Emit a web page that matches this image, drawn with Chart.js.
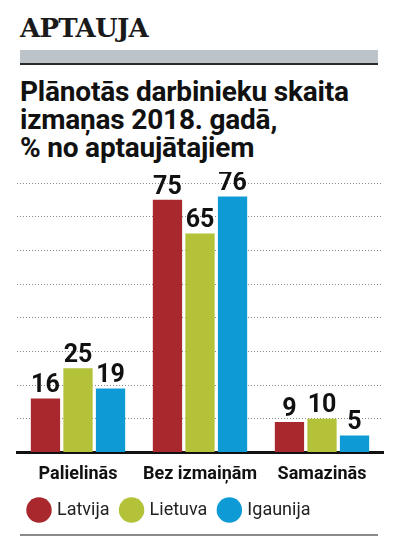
<!DOCTYPE html>
<html>
<head>
<meta charset="utf-8">
<script src="https://cdn.jsdelivr.net/npm/chart.js@4"></script>
<style>
  body { margin: 0; background: #fff; width: 393px; height: 551px; position: relative; overflow: hidden; }
  #kicker { position: absolute; left: 20px; top: 15px; font: bold 26px/1 "DejaVu Serif", serif; color: #1a1a1a; letter-spacing: -0.7px; }
  #band { position: absolute; left: 20px; top: 50px; width: 358px; height: 13px; background: #bcc4ca; border-bottom: 2px solid #2a2a2a; }
  #title { position: absolute; left: 20px; top: 78px; font: bold 28px/28px Roboto, sans-serif; color: #111; letter-spacing: -0.2px; }
  #wrap { position: absolute; left: 0; top: 172px; width: 393px; height: 357px; }
  #rule { position: absolute; left: 20px; top: 534px; width: 358px; height: 2px; background: #8a8a8a; }
</style>
</head>
<body>
<div id="kicker">APTAUJA</div>
<div id="band"></div>
<div id="title">Plānotās darbinieku skaita<br>izmaņas 2018. gadā,<br>% no aptaujātajiem</div>
<div id="wrap"><canvas id="myChart"></canvas></div>
<div id="rule"></div>
<script>
var categories = ["Palielinās", "Bez izmaiņām", "Samazinās"];
var latvija = [16, 75, 9];
var lietuva = [25, 65, 10];
var igaunija = [19, 76, 5];

// numbers on top of the bars
var valueLabels = {
    id: 'valueLabels',
    afterDatasetsDraw: function(chart) {
        var ctx = chart.ctx;
        ctx.save();
        ctx.font = 'bold 25px Roboto, sans-serif';
        ctx.fillStyle = '#111';
        ctx.textAlign = 'center';
        ctx.textBaseline = 'bottom';
        chart.data.datasets.forEach(function(ds, i) {
            chart.getDatasetMeta(i).data.forEach(function(bar, j) {
                ctx.fillText(ds.data[j], bar.x, bar.y);
            });
        });
        ctx.restore();
    }
};

var config = {
    type: 'bar',
    data: {
        labels: categories,
        datasets: [{
            label: 'Latvija',
            data: latvija,
            backgroundColor: '#a8282d'
        }, {
            label: 'Lietuva',
            data: lietuva,
            backgroundColor: '#b4c23a'
        }, {
            label: 'Igaunija',
            data: igaunija,
            backgroundColor: '#0e9bd5'
        }]
    },
    options: {
        responsive: true,
        maintainAspectRatio: false,
        animation: false,
        categoryPercentage: 0.8,
        barPercentage: 0.9,
        layout: { padding: { top: 11, left: 17, right: 10, bottom: 0 } },
        plugins: {
            tooltip: { enabled: false },
            legend: {
                position: 'bottom',
                align: 'start',
                labels: {
                    usePointStyle: true,
                    pointStyle: 'circle',
                    boxWidth: 21,
                    boxHeight: 21,
                    padding: 13,
                    color: '#222',
                    font: { family: 'Roboto, sans-serif', size: 18 }
                }
            }
        },
        scales: {
            x: {
                grid: { display: false },
                border: { color: '#111', width: 3 },
                ticks: {
                    color: '#111',
                    padding: 3,
                    autoSkip: false,
                    maxRotation: 0,
                    minRotation: 0,
                    font: { family: 'Roboto, sans-serif', size: 18, weight: 'bold' }
                }
            },
            y: {
                min: 0,
                max: 80,
                ticks: { display: false, stepSize: 10 },
                border: { display: false, dash: [1, 2] },
                grid: { color: '#888', drawTicks: false, lineWidth: 1 }
            }
        }
    },
    plugins: [valueLabels]
};

window.onload = function() {
    var ctx = document.getElementById("myChart");
    window.myBar = new Chart(ctx, config);
};
</script>
</body>
</html>
